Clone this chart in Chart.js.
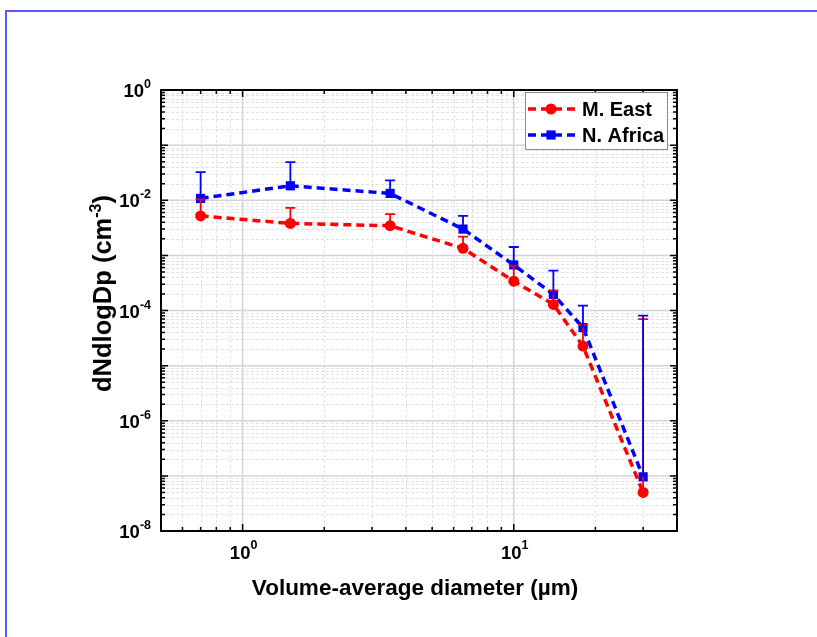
<!DOCTYPE html>
<html>
<head>
<meta charset="utf-8">
<script src="https://cdn.jsdelivr.net/npm/chart.js@4.4.0/dist/chart.umd.min.js"></script>
<style>
  html, body { margin: 0; padding: 0; background: #fff; }
  #wrap { position: relative; width: 817px; height: 637px; overflow: hidden; }
  #edge { position: absolute; left: 5px; top: 10px; right: -20px; bottom: -20px;
          border-left: 2px solid #5a5aff; border-top: 2px solid #5a5aff; }
  #plot { position: absolute; left: 0; top: 0; }
</style>
</head>
<body>
<div id="wrap">
  <div id="edge"></div>
  <canvas id="plot" width="817" height="637"></canvas>
</div>
<script>
  // Volume-average diameter bins (µm)
  const diameters = [0.7, 1.5, 3.5, 6.5, 10, 14, 18, 30];

  // dN/dlogDp (cm^-3) and upper error bar ends
  const mEast = [5.2e-3, 3.8e-3, 3.45e-3, 1.34e-3, 3.4e-4, 1.29e-4, 2.26e-5, 5.0e-8];
  const mEastUpper = [1.04e-2, 7.3e-3, 5.6e-3, 2.18e-3, 6.5e-4, 2.3e-4, 5.5e-5, 7.0e-5];
  const nAfrica = [1.08e-2, 1.83e-2, 1.33e-2, 3.0e-3, 6.7e-4, 1.96e-4, 4.9e-5, 9.6e-8];
  const nAfricaUpper = [3.25e-2, 4.9e-2, 2.3e-2, 5.2e-3, 1.42e-3, 5.3e-4, 1.23e-4, 8.1e-5];

  // labelled ticks: [value, exponent]
  const xTickLabels = [[1, '0'], [10, '1']];
  const yTickLabels = [[1, '0'], [1e-2, '-2'], [1e-4, '-4'], [1e-6, '-6'], [1e-8, '-8']];

  const FONT = '"Liberation Sans", Arial, sans-serif';

  // all decade multiples (1..9 x 10^d) inside [lo, hi]
  function logSteps(lo, hi) {
    let out = [];
    for (let d = Math.floor(Math.log10(lo)) - 1; d <= Math.ceil(Math.log10(hi)); d++) {
      for (let k = 1; k <= 9; k++) {
        const v = k * Math.pow(10, d);
        if (v >= lo * 0.9999 && v <= hi * 1.0001) out.push({ v: v, major: k == 1 });
      }
    }
    return out;
  }

  // text with a superscript part; x is the anchor, y the baseline
  function supText(ctx, base, sup, x, y, size, supSize, supRise, align) {
    ctx.font = 'bold ' + size + 'px ' + FONT;
    const wb = ctx.measureText(base).width;
    ctx.font = 'bold ' + supSize + 'px ' + FONT;
    const ws = ctx.measureText(sup).width;
    let x0 = x;
    if (align == 'right') x0 = x - wb - ws;
    if (align == 'center') x0 = x - (wb + ws) / 2;
    ctx.textAlign = 'left';
    ctx.textBaseline = 'alphabetic';
    ctx.font = 'bold ' + size + 'px ' + FONT;
    ctx.fillText(base, x0, y);
    ctx.font = 'bold ' + supSize + 'px ' + FONT;
    ctx.fillText(sup, x0 + wb, y - supRise);
    return x0 + wb + ws;
  }

  function drawMarker(ctx, style, color, x, y) {
    ctx.fillStyle = color;
    ctx.beginPath();
    if (style == 'circle') {
      ctx.arc(x, y, 5.5, 0, Math.PI * 2);
    } else {
      ctx.rect(x - 4.6, y - 4.6, 9.2, 9.2);
    }
    ctx.fill();
  }

  const frame = {
    id: 'frame',
    beforeDatasetsDraw(chart) {
      const ctx = chart.ctx;
      const a = chart.chartArea;
      const xs = chart.scales.x, ys = chart.scales.y;
      ctx.save();
      // minor grid first, dashed
      ctx.lineWidth = 1;
      ctx.strokeStyle = '#e2e2e2';
      ctx.setLineDash([3, 2]);
      logSteps(xs.min, xs.max).forEach(t => {
        if (t.major) return;
        const px = Math.round(xs.getPixelForValue(t.v)) + 0.5;
        ctx.beginPath(); ctx.moveTo(px, a.top); ctx.lineTo(px, a.bottom); ctx.stroke();
      });
      logSteps(ys.min, ys.max).forEach(t => {
        if (t.major) return;
        const py = Math.round(ys.getPixelForValue(t.v)) + 0.5;
        ctx.beginPath(); ctx.moveTo(a.left, py); ctx.lineTo(a.right, py); ctx.stroke();
      });
      // decade grid, solid
      ctx.setLineDash([]);
      ctx.strokeStyle = '#d4d4d4';
      ctx.lineWidth = 1.5;
      logSteps(xs.min, xs.max).forEach(t => {
        if (!t.major) return;
        const px = xs.getPixelForValue(t.v);
        ctx.beginPath(); ctx.moveTo(px, a.top); ctx.lineTo(px, a.bottom); ctx.stroke();
      });
      logSteps(ys.min, ys.max).forEach(t => {
        if (!t.major) return;
        const py = ys.getPixelForValue(t.v);
        ctx.beginPath(); ctx.moveTo(a.left, py); ctx.lineTo(a.right, py); ctx.stroke();
      });
      ctx.restore();
    },
    afterDatasetsDraw(chart) {
      const ctx = chart.ctx;
      const ys = chart.scales.y;
      ctx.save();
      ctx.setLineDash([]);
      ctx.lineWidth = 1.8;
      chart.data.datasets.forEach((ds, i) => {
        const meta = chart.getDatasetMeta(i);
        ctx.strokeStyle = ds.borderColor;
        meta.data.forEach((pt, j) => {
          const top = ys.getPixelForValue(ds.upper[j]);
          ctx.beginPath();
          ctx.moveTo(pt.x, pt.y); ctx.lineTo(pt.x, top);
          ctx.moveTo(pt.x - 5, top); ctx.lineTo(pt.x + 5, top);
          ctx.stroke();
        });
      });
      ctx.restore();
    },
    afterDraw(chart) {
      const ctx = chart.ctx;
      const a = chart.chartArea;
      const xs = chart.scales.x, ys = chart.scales.y;
      ctx.save();

      // inward ticks on all four sides
      ctx.strokeStyle = '#000';
      ctx.lineWidth = 1.5;
      logSteps(xs.min, xs.max).forEach(t => {
        const px = xs.getPixelForValue(t.v);
        const len = t.major ? 7 : 4;
        ctx.beginPath();
        ctx.moveTo(px, a.bottom); ctx.lineTo(px, a.bottom - len);
        ctx.moveTo(px, a.top); ctx.lineTo(px, a.top + len);
        ctx.stroke();
      });
      logSteps(ys.min, ys.max).forEach(t => {
        const py = ys.getPixelForValue(t.v);
        const len = t.major ? 7 : 4;
        ctx.beginPath();
        ctx.moveTo(a.left, py); ctx.lineTo(a.left + len, py);
        ctx.moveTo(a.right, py); ctx.lineTo(a.right - len, py);
        ctx.stroke();
      });

      // axis box
      ctx.lineWidth = 2;
      ctx.strokeRect(a.left, a.top, a.right - a.left, a.bottom - a.top);

      // tick labels
      ctx.fillStyle = '#000';
      xTickLabels.forEach(l => {
        const px = xs.getPixelForValue(l[0]);
        supText(ctx, '10', l[1], px + 1, a.bottom + 28, 18.5, 12.5, 10, 'center');
      });
      yTickLabels.forEach(l => {
        const py = ys.getPixelForValue(l[0]);
        supText(ctx, '10', l[1], a.left - 10, py + 7, 18.5, 12.5, 9, 'right');
      });

      // axis titles
      ctx.font = 'bold 22.5px ' + FONT;
      ctx.textAlign = 'center';
      ctx.textBaseline = 'alphabetic';
      ctx.fillText('Volume-average diameter (\u00b5m)', (a.left + a.right) / 2 - 4, a.bottom + 64);

      ctx.save();
      ctx.translate(111, (a.top + a.bottom) / 2 - 17);
      ctx.rotate(-Math.PI / 2);
      ctx.font = 'bold 25.5px ' + FONT;
      const w1 = ctx.measureText('dNdlogDp (cm').width;
      ctx.font = 'bold 16px ' + FONT;
      const w2 = ctx.measureText('-3').width;
      ctx.font = 'bold 25.5px ' + FONT;
      const w3 = ctx.measureText(')').width;
      const end = supText(ctx, 'dNdlogDp (cm', '-3', -(w1 + w2 + w3) / 2, 0, 25.5, 16, 10.5, 'left');
      ctx.font = 'bold 25.5px ' + FONT;
      ctx.textAlign = 'left';
      ctx.fillText(')', end, 0);
      ctx.restore();

      // legend
      const lx = 525, ly = 92, lw = 142, lh = 57;
      ctx.fillStyle = '#fff';
      ctx.fillRect(lx, ly, lw, lh);
      ctx.strokeStyle = '#8a8a8a';
      ctx.lineWidth = 1;
      ctx.strokeRect(lx + 0.5, ly + 0.5, lw, lh);
      chart.data.datasets.forEach((ds, i) => {
        const ry = ly + 17 + i * 26;
        ctx.strokeStyle = ds.borderColor;
        ctx.lineWidth = 3.5;
        ctx.setLineDash([8, 5]);
        ctx.beginPath(); ctx.moveTo(lx + 3, ry); ctx.lineTo(lx + 54, ry); ctx.stroke();
        ctx.setLineDash([]);
        drawMarker(ctx, ds.pointStyle, ds.backgroundColor, lx + 26, ry);
        ctx.fillStyle = '#000';
        ctx.font = 'bold 20px ' + FONT;
        ctx.textAlign = 'left';
        ctx.textBaseline = 'middle';
        ctx.fillText(ds.label, lx + 57, ry + 1);
      });
      ctx.restore();
    }
  };

  const ctx = document.getElementById('plot').getContext('2d');
  const sizeChart = new Chart(ctx, {
    type: 'scatter',
    data: {
      datasets: [
        {
          label: 'M. East',
          data: diameters.map((d, i) => ({ x: d, y: mEast[i] })),
          upper: mEastUpper,
          showLine: true,
          borderColor: '#ff0000',
          backgroundColor: '#ff0000',
          borderWidth: 3.5,
          borderDash: [8, 5],
          pointStyle: 'circle',
          pointRadius: 5.5,
          pointBorderWidth: 0
        },
        {
          label: 'N. Africa',
          data: diameters.map((d, i) => ({ x: d, y: nAfrica[i] })),
          upper: nAfricaUpper,
          showLine: true,
          borderColor: '#0000ff',
          backgroundColor: '#0000ff',
          borderWidth: 3.5,
          borderDash: [8, 5],
          pointStyle: 'rect',
          pointRadius: 6.5,
          pointBorderWidth: 0
        }
      ]
    },
    options: {
      responsive: false,
      animation: false,
      layout: { padding: { left: 161, top: 90, right: 140, bottom: 106 } },
      plugins: { legend: { display: false }, tooltip: { enabled: false } },
      scales: {
        x: { type: 'logarithmic', min: 0.5, max: 40, display: false },
        y: { type: 'logarithmic', min: 1e-8, max: 1, display: false }
      }
    },
    plugins: [frame]
  });
</script>
</body>
</html>
